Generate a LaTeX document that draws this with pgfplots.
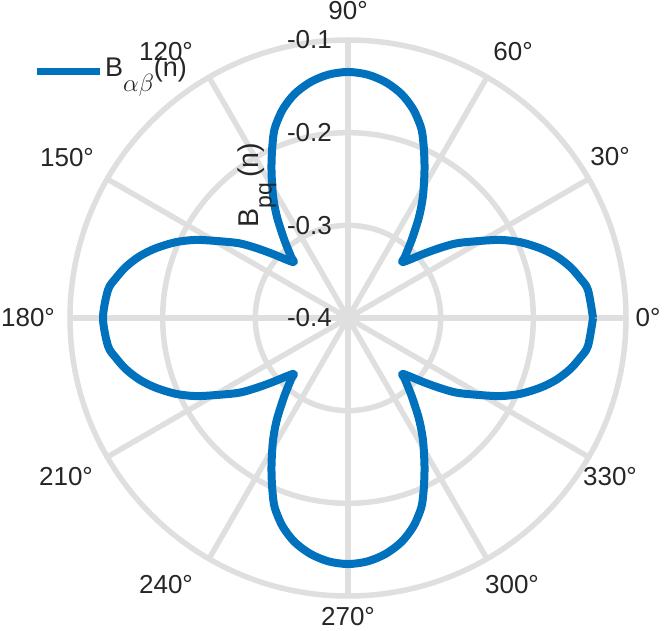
\documentclass[border=0pt]{standalone}
\usepackage{pgfplots}
\usepackage{pgfplotstable}
\pgfplotsset{compat=1.18}
\usepackage{fontspec}
\setmainfont{Liberation Sans}
\definecolor{mblue}{RGB}{0,114,189}
\definecolor{gridgray}{RGB}{223,223,223}
\definecolor{txt}{RGB}{38,38,38}

\pgfplotstableread{
t r
0 -0.1356
6.7 -0.1393
9.8 -0.1460
13.0 -0.1541
16.6 -0.1658
20.0 -0.1796
23.8 -0.1971
27.2 -0.2156
30.6 -0.2370
34.5 -0.2577
37.3 -0.2753
40.4 -0.2934
45.5 -0.3153
47.1 -0.3097
50.8 -0.2913
54.4 -0.2699
56.6 -0.2565
58.9 -0.2428
62.2 -0.2231
64.5 -0.2086
66.7 -0.1943
68.9 -0.1805
72.5 -0.1646
76.5 -0.1517
80.9 -0.1423
85.4 -0.1365
90 -0.1345
94.6 -0.1365
99.1 -0.1423
103.5 -0.1517
107.5 -0.1646
111.1 -0.1805
113.3 -0.1943
115.5 -0.2086
117.8 -0.2231
121.1 -0.2428
123.4 -0.2565
125.6 -0.2699
129.2 -0.2913
132.9 -0.3097
134.5 -0.3153
139.6 -0.2934
142.7 -0.2753
145.5 -0.2577
149.4 -0.2370
152.8 -0.2156
156.2 -0.1971
160.0 -0.1796
163.4 -0.1658
167.0 -0.1541
170.2 -0.1460
173.3 -0.1393
180 -0.1356
186.7 -0.1393
189.8 -0.1460
193.0 -0.1541
196.6 -0.1658
200.0 -0.1796
203.8 -0.1971
207.2 -0.2156
210.6 -0.2370
214.5 -0.2577
217.3 -0.2753
220.4 -0.2934
225.5 -0.3153
227.1 -0.3097
230.8 -0.2913
234.4 -0.2699
236.6 -0.2565
238.9 -0.2428
242.2 -0.2231
244.5 -0.2086
246.7 -0.1943
248.9 -0.1805
252.5 -0.1646
256.5 -0.1517
260.9 -0.1423
265.4 -0.1365
270 -0.1345
274.6 -0.1365
279.1 -0.1423
283.5 -0.1517
287.5 -0.1646
291.1 -0.1805
293.3 -0.1943
295.5 -0.2086
297.8 -0.2231
301.1 -0.2428
303.4 -0.2565
305.6 -0.2699
309.2 -0.2913
312.9 -0.3097
314.5 -0.3153
319.6 -0.2934
322.7 -0.2753
325.5 -0.2577
329.4 -0.2370
332.8 -0.2156
336.2 -0.1971
340.0 -0.1796
343.4 -0.1658
347.0 -0.1541
350.2 -0.1460
353.3 -0.1393
360 -0.1356
}\curve

\begin{document}
\begin{tikzpicture}
\begin{axis}[
  name=ax,
  hide axis,
  scale only axis,
  width=664pt, height=630pt,
  xmin=-348, xmax=316,
  ymin=-312, ymax=318,
  clip=false,
]
% grid circles
\draw[gridgray, line width=5.5pt] (axis cs:0,0) circle[radius=92.67pt];
\draw[gridgray, line width=5.5pt] (axis cs:0,0) circle[radius=185.33pt];
\draw[gridgray, line width=5.5pt] (axis cs:0,0) circle[radius=278pt];
% spokes
\draw[gridgray, line width=5.5pt] (axis cs:-278,0) -- (axis cs:278,0);
\draw[gridgray, line width=5.5pt] (axis cs:-240.75,-139) -- (axis cs:240.75,139);
\draw[gridgray, line width=5.5pt] (axis cs:-139,-240.75) -- (axis cs:139,240.75);
\draw[gridgray, line width=5.5pt] (axis cs:0,-278) -- (axis cs:0,278);
\draw[gridgray, line width=5.5pt] (axis cs:-139,240.75) -- (axis cs:139,-240.75);
\draw[gridgray, line width=5.5pt] (axis cs:-240.75,139) -- (axis cs:240.75,-139);

\addplot[mblue, line width=8pt, smooth, tension=0.5, line join=round]
  table[x expr={(\thisrow{r}+0.4)*926.67*cos(\thisrow{t})},
        y expr={(\thisrow{r}+0.4)*926.67*sin(\thisrow{t})}] {\curve};

% r tick labels
\begin{scope}[every node/.style={font=\fontsize{26}{30}\selectfont, text=txt, inner sep=0pt}]
\node[anchor=east] at (axis cs:-16,0) {-0.4};
\node[anchor=east] at (axis cs:-16,92.67) {-0.3};
\node[anchor=east] at (axis cs:-16,185.33) {-0.2};
\node[anchor=east] at (axis cs:-16,278) {-0.1};
% theta labels
\node at (axis cs:300,0) {0°};
\node at (axis cs:262,161) {30°};
\node at (axis cs:165,266) {60°};
\node at (axis cs:0,307) {90°};
\node at (axis cs:-182,266) {120°};
\node at (axis cs:-281,160) {150°};
\node at (axis cs:-320,0) {180°};
\node at (axis cs:-282,-159) {210°};
\node at (axis cs:-182,-267) {240°};
\node at (axis cs:0,-299) {270°};
\node at (axis cs:164,-267) {300°};
\node at (axis cs:262,-159) {330°};
\end{scope}
% r axis label
\node[rotate=90, anchor=base west, inner sep=0pt, text=txt, font=\fontsize{28.6}{32}\selectfont]
  at (axis cs:-89.5,90.5) {B\raisebox{-13pt}{\fontsize{23}{23}\selectfont pq}\,(n)};
% legend
\draw[mblue, line width=7pt] (axis cs:-311,246) -- (axis cs:-248,246);
\node[anchor=base west, inner sep=0pt, text=txt, font=\fontsize{27}{30}\selectfont]
  at (axis cs:-243,241) {B\raisebox{-15pt}{\fontsize{25}{25}\selectfont$\alpha\beta$}(n)};
\end{axis}
\pgfresetboundingbox
\useasboundingbox (ax.south west) rectangle (ax.north east);
\end{tikzpicture}
\end{document}
